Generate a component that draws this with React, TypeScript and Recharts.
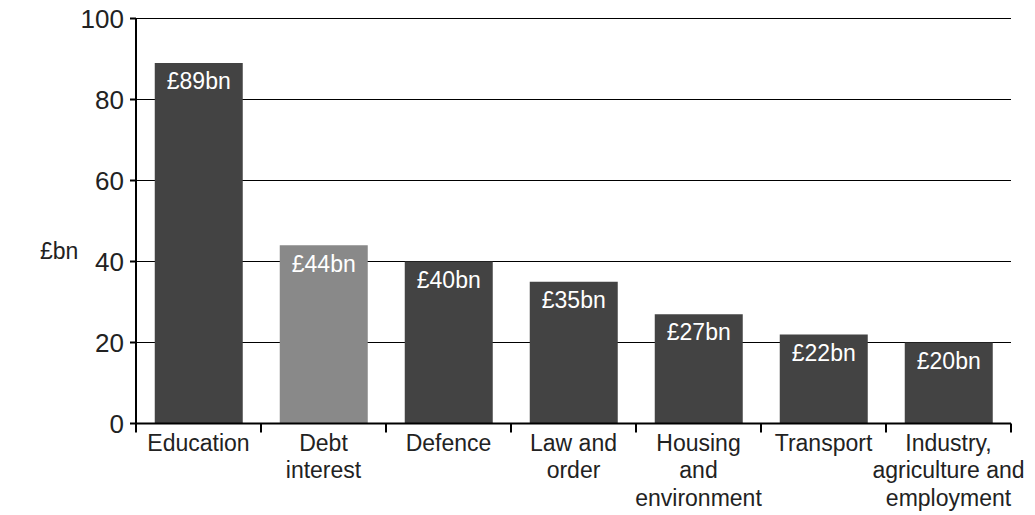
import { BarChart, Bar, XAxis, YAxis, CartesianGrid, Cell, LabelList, Label } from 'recharts';

const categories = [
    'Education',
    'Debt\ninterest',
    'Defence',
    'Law and\norder',
    'Housing\nand\nenvironment',
    'Transport',
    'Industry,\nagriculture and\nemployment',
];
const spending = [89, 44, 40, 35, 27, 22, 20];
const barLabels = ['£89bn', '£44bn', '£40bn', '£35bn', '£27bn', '£22bn', '£20bn'];
const yTicks = [0, 20, 40, 60, 80, 100];

const FONT = '"Liberation Sans", Arial, Helvetica, sans-serif';
const DARK = '#434343';
const LIGHT = '#898989';
const TICK_SIZE = 9;
const TICK_MARGIN = 2;

const data = categories.map((name, i) => ({ name, value: spending[i], label: barLabels[i] }));

// label plus tick marks at the category boundaries (half a band either side)
function CategoryTick({ x, y, payload, index, visibleTicksCount }: any) {
    const lines = String(payload.value).split('\n');
    const half = payload.offset ?? 0;
    const top = y - TICK_SIZE - TICK_MARGIN;
    const isLast = index === visibleTicksCount - 1;
    return (
        <g>
            <line x1={x - half} x2={x - half} y1={top} y2={top + TICK_SIZE} stroke="#000" strokeWidth={2} />
            {isLast && (
                <line x1={x + half} x2={x + half} y1={top} y2={top + TICK_SIZE} stroke="#000" strokeWidth={2} />
            )}
            <text x={x} y={y} textAnchor="middle" fill="#222" fontSize={23} fontFamily={FONT}>
                {lines.map((line, i) => (
                    <tspan key={i} x={x} dy={i === 0 ? '0.71em' : 27.5}>
                        {line}
                    </tspan>
                ))}
            </text>
        </g>
    );
}

export default function App() {
    return (
        <div style={{ position: 'absolute', left: 0, top: 0, background: '#fff' }}>
            <BarChart
                width={1035}
                height={515}
                data={data}
                margin={{ top: 18.5, right: 24, left: 0, bottom: 0 }}
                barCategoryGap="15%"
            >
                <CartesianGrid horizontal vertical={false} stroke="#000" strokeWidth={1} />
                <XAxis
                    dataKey="name"
                    interval={0}
                    height={91.5}
                    tickSize={TICK_SIZE}
                    tickMargin={TICK_MARGIN}
                    axisLine={{ stroke: '#000', strokeWidth: 2 }}
                    tickLine={false}
                    tick={<CategoryTick />}
                />
                <YAxis
                    width={136}
                    domain={[0, 100]}
                    ticks={yTicks}
                    interval={0}
                    tickSize={6}
                    tickMargin={6}
                    axisLine={{ stroke: '#000', strokeWidth: 2 }}
                    tickLine={{ stroke: '#000', strokeWidth: 2 }}
                    tick={{ fill: '#222', fontSize: 26, fontFamily: FONT }}
                >
                    <Label
                        content={({ viewBox }: any) => (
                            <text
                                x={viewBox.x + 40}
                                y={viewBox.y + viewBox.height / 2 + 38}
                                fill="#222"
                                fontSize={23}
                                fontFamily={FONT}
                            >
                                £bn
                            </text>
                        )}
                    />
                </YAxis>
                <Bar dataKey="value" isAnimationActive={false}>
                    {data.map((d, i) => (
                        <Cell key={d.name} fill={i === 1 ? LIGHT : DARK} />
                    ))}
                    <LabelList
                        dataKey="label"
                        position="insideTop"
                        offset={10}
                        fill="#fff"
                        fontSize={23}
                        fontFamily={FONT}
                    />
                </Bar>
            </BarChart>
        </div>
    );
}
